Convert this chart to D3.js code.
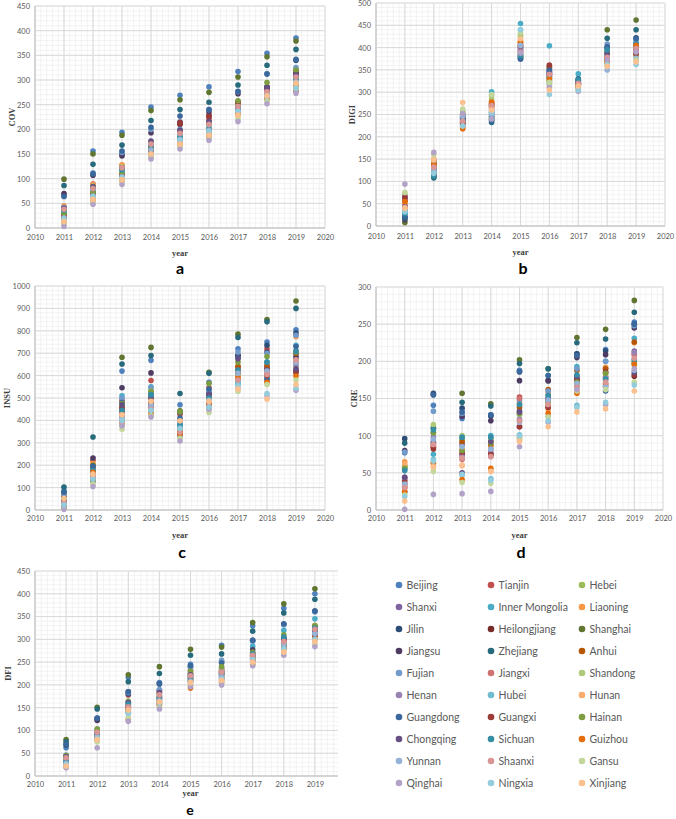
<!DOCTYPE html>
<html>
<head>
<meta charset="utf-8">
<script src="https://d3js.org/d3.v7.min.js"></script>
<style>
body{margin:0;background:#fff;}
svg{display:block;}
.tick text{font-family:Lato, "Open Sans", sans-serif;font-size:7.5px;fill:#595959;}
.ytitle, .xtitle{font-family:"Liberation Serif", "DejaVu Serif", serif;font-weight:bold;fill:#404040;}
.letter{font-family:Lato, "Open Sans", sans-serif;font-weight:bold;font-size:16px;fill:#000;}
.legend text{font-family:Lato, "Open Sans", sans-serif;font-size:10.5px;fill:#595959;}
</style>
</head>
<body>
<script>
//wrap everything in a self-executing anonymous function to move to local scope
(function(){

//provinces, in the order of the legend
var provinces = ["Beijing","Tianjin","Hebei","Shanxi","Inner Mongolia","Liaoning",
    "Jilin","Heilongjiang","Shanghai","Jiangsu","Zhejiang","Anhui",
    "Fujian","Jiangxi","Shandong","Henan","Hubei","Hunan",
    "Guangdong","Guangxi","Hainan","Chongqing","Sichuan","Guizhou",
    "Yunnan","Shaanxi","Gansu","Qinghai","Ningxia","Xinjiang"];

var colors = ["#4F81BD","#C0504D","#9BBB59","#8064A2","#4BACC6","#F79646",
    "#2C4D75","#772C2A","#5F7530","#4D3B62","#276A7C","#B65708",
    "#729ACA","#CD7371","#AFC97A","#9983B5","#6FBDD1","#F9AB6B",
    "#3A679C","#9B3B38","#7E9C40","#664F82","#358EA6","#E46C0A",
    "#95B3D7","#D99694","#C3D69B","#B3A2C7","#93CDDD","#FAC090"];

var years = [2011,2012,2013,2014,2015,2016,2017,2018,2019];
var xTicks = [2010,2011,2012,2013,2014,2015,2016,2017,2018,2019,2020];

//one row per year, provinces in the order above
var covData = [
    [66,40,18,25,30,45,28,22,99,70,86,35,42,26,38,20,33,14,64,23,30,40,36,10,15,38,8,3,20,13],
    [156,89,62,70,77,88,72,70,150,107,129,82,112,75,85,68,78,60,110,66,72,84,80,56,65,80,52,48,63,58],
    [194,126,102,110,118,128,150,108,188,146,168,120,153,112,124,106,115,100,156,105,112,122,118,96,104,122,94,88,102,98],
    [245,170,150,160,165,168,155,158,238,193,218,162,200,172,174,148,168,152,204,156,160,176,166,146,158,170,145,140,150,150],
    [269,212,172,185,190,180,196,210,260,215,240,188,200,195,190,176,188,172,227,213,182,198,184,168,180,192,165,160,178,170],
    [286,222,192,205,210,200,215,228,275,235,255,205,240,212,208,195,204,190,240,226,200,216,200,185,198,210,182,178,196,188],
    [317,255,235,240,245,250,238,256,306,272,290,252,276,248,250,232,244,228,277,254,258,246,240,232,238,246,222,216,236,229],
    [354,282,260,272,276,270,285,280,347,286,330,275,313,278,265,262,274,266,312,268,295,284,270,262,272,276,258,252,266,268],
    [385,320,290,300,305,298,340,315,379,312,362,302,325,308,288,296,300,292,342,278,320,310,304,285,296,306,282,273,284,294]
];

var digiData = [
    [30,62,70,66,45,55,20,58,8,14,18,52,35,48,50,60,36,50,22,64,40,44,28,55,38,42,75,94,32,40],
    [118,140,145,148,128,140,112,145,110,115,108,138,125,135,142,128,120,150,114,138,122,130,112,136,125,132,160,165,118,148],
    [240,235,258,250,228,220,238,232,246,236,244,225,242,232,255,248,226,222,240,230,250,242,236,218,246,235,262,252,224,277],
    [250,276,294,265,301,280,240,272,238,245,232,270,258,268,285,262,252,266,236,274,246,255,242,278,250,270,295,240,255,260],
    [395,405,425,398,454,412,378,402,380,385,376,410,400,392,430,395,440,418,374,404,385,390,382,414,405,390,435,388,440,420],
    [340,345,330,352,404,336,348,358,325,342,334,355,346,338,320,344,328,312,350,361,324,340,332,330,318,340,322,310,295,305],
    [320,318,312,322,341,316,325,320,318,326,330,314,322,316,310,318,326,312,328,320,315,324,328,310,308,320,306,302,305,314],
    [398,385,372,380,392,368,400,376,440,388,421,370,408,378,366,382,384,374,402,375,390,386,395,368,350,378,360,372,362,358],
    [410,398,385,392,412,395,422,388,462,402,440,384,418,396,380,394,400,390,420,386,404,398,408,405,376,398,372,390,362,368]
];

var insuData = [
    [85,50,12,30,45,55,40,25,78,60,102,22,72,28,35,15,42,18,80,20,48,38,32,8,26,34,6,3,22,52],
    [185,222,125,160,178,210,175,165,200,232,326,190,180,150,140,130,170,155,195,145,135,160,175,168,150,145,115,105,138,160],
    [620,490,380,430,510,450,440,420,682,546,652,460,500,435,470,410,400,425,480,455,475,470,445,395,412,388,360,375,400,425],
    [668,578,440,480,550,500,520,470,726,612,690,485,545,460,530,455,445,490,510,475,530,500,515,430,470,450,420,415,445,485],
    [470,428,330,350,385,345,360,355,443,435,520,350,390,370,340,330,375,400,410,340,438,365,380,342,360,348,320,308,365,398],
    [570,545,455,480,505,490,520,510,615,525,610,495,530,470,500,460,465,485,540,475,565,515,500,470,490,480,435,450,460,485],
    [720,640,560,610,565,600,690,625,785,690,770,640,705,590,600,580,570,620,680,610,660,675,625,590,610,580,530,545,555,540],
    [750,720,620,640,660,575,735,630,850,705,840,645,700,610,600,580,590,620,585,600,685,625,660,570,620,605,560,510,520,495],
    [805,710,620,690,735,775,790,620,933,680,900,700,780,660,640,650,610,665,730,615,705,630,708,598,660,670,580,535,545,560]
];

var creData = [
    [77,42,60,44,55,65,96,35,58,80,90,30,78,32,57,40,54,62,24,38,56,44,53,25,35,30,20,1,18,12],
    [141,85,112,92,75,63,157,84,104,155,110,88,133,86,115,98,68,58,155,82,104,90,108,64,95,88,52,21,66,58],
    [123,90,95,87,97,82,137,75,157,126,145,92,130,68,100,72,47,60,132,78,80,50,98,41,85,70,37,22,48,60],
    [128,76,92,82,100,86,126,74,143,120,140,88,96,72,95,78,42,52,128,75,90,92,98,56,82,72,36,25,40,52],
    [188,152,128,133,142,145,186,112,202,174,197,138,148,150,128,122,101,93,186,112,130,132,142,97,118,120,95,85,100,92],
    [181,150,145,148,155,158,174,138,190,174,190,162,160,141,140,146,126,135,181,138,145,150,154,130,148,142,125,118,120,112],
    [210,175,168,172,193,188,210,175,232,205,225,188,190,166,172,178,141,160,208,176,172,180,182,157,170,165,160,162,138,132],
    [216,190,180,178,200,192,214,185,243,209,230,190,200,175,182,178,166,165,160,186,184,168,176,170,166,172,162,142,145,136],
    [253,210,200,214,231,225,250,180,282,245,266,226,248,208,195,212,202,198,250,182,198,185,202,196,188,204,172,190,168,160]
];

var dfiData = [
    [62,40,30,35,32,38,68,36,80,44,75,30,46,34,38,28,30,25,70,26,45,42,33,22,28,40,20,18,25,22],
    [127,98,80,90,88,92,125,88,151,122,147,88,103,95,100,85,90,82,127,84,103,95,92,78,86,96,75,62,82,80],
    [216,178,140,155,160,150,180,152,222,185,207,150,183,155,165,148,140,145,185,145,162,162,158,124,137,152,128,120,138,145],
    [205,185,160,172,175,170,202,168,240,188,225,165,190,175,178,160,170,162,203,158,180,183,172,155,165,178,150,147,160,163],
    [245,232,210,222,215,218,240,212,278,225,265,215,238,220,225,205,215,200,242,208,230,222,218,193,208,220,198,196,205,205],
    [287,232,215,225,222,230,250,225,283,236,268,220,254,230,232,212,220,208,248,215,240,228,226,205,218,228,205,200,212,210],
    [330,268,255,262,285,265,298,262,337,277,318,258,296,270,262,252,255,248,298,255,272,265,268,245,258,265,245,242,255,250],
    [368,298,285,300,320,296,333,290,378,303,358,280,332,296,290,285,288,278,334,286,310,300,305,280,288,295,272,265,280,272],
    [400,325,310,322,345,330,362,310,411,328,388,318,360,322,312,315,318,305,362,308,330,320,325,300,312,322,290,284,300,295]
];

//draw the whole figure
drawFigure();

function drawFigure(){
    var width = 676,
        height = 819;

    var svg = d3.select("body")
        .append("svg")
        .attr("width", width)
        .attr("height", height);

    //panel e runs past the legend column, so clip it
    svg.append("defs")
        .append("clipPath")
        .attr("id", "clipE")
        .append("rect")
        .attr("x", 0)
        .attr("y", 555)
        .attr("width", 338)
        .attr("height", 264);

    //panel frames
    var panels = [
        {data: covData, name: "COV", letter: "a", left: 35, right: 325, top: 6, bottom: 228, max: 450, major: 50, minor: 10,
            titleX: 12, padX: 7, yearY: 253, letterY: 268, letterX: 180, letterSize: 16},
        {data: digiData, name: "DIGI", letter: "b", left: 376, right: 665, top: 3, bottom: 226, max: 500, major: 50, minor: 10,
            titleX: 352, padX: 8, yearY: 252, letterY: 268, letterX: 523, letterSize: 16},
        {data: insuData, name: "INSU", letter: "c", left: 35, right: 325, top: 286, bottom: 510, max: 1000, major: 100, minor: 20,
            titleX: 7, padX: 6, yearY: 535, letterY: 552, letterX: 182, letterSize: 16},
        {data: creData, name: "CRE", letter: "d", left: 376, right: 663, top: 287, bottom: 510, max: 300, major: 50, minor: 10,
            titleX: 354, padX: 6, yearY: 535, letterY: 552, letterX: 521, letterSize: 16},
        {data: dfiData, name: "DFI", letter: "e", left: 35, right: 346, top: 571, bottom: 776, max: 450, major: 50, minor: 10,
            titleX: 8, padX: 6, yearY: 793, letterY: 810, letterX: 190, letterSize: 14, clip: "clipE"}
    ];

    panels.forEach(function(p){
        setPanel(svg, p);
    });

    setLegend(svg);
};

//draw one scatter panel
function setPanel(svg, p){
    var x = d3.scaleLinear().domain([2010, 2020]).range([p.left, p.right]);
    var y = d3.scaleLinear().domain([0, p.max]).range([p.bottom, p.top]);

    var g = svg.append("g");
    if (p.clip){
        g.attr("clip-path", "url(#" + p.clip + ")");
    };

    //minor gridlines
    var minor = g.append("g")
        .attr("stroke", "#eeeeee")
        .attr("stroke-width", 0.7);
    minor.selectAll(".vminor")
        .data(d3.range(2010, 2020.001, 0.2))
        .enter()
        .append("line")
        .attr("x1", function(d){ return x(d); })
        .attr("x2", function(d){ return x(d); })
        .attr("y1", p.top)
        .attr("y2", p.bottom);
    minor.selectAll(".hminor")
        .data(d3.range(0, p.max + 0.001, p.minor))
        .enter()
        .append("line")
        .attr("x1", p.left)
        .attr("x2", p.right)
        .attr("y1", function(d){ return y(d); })
        .attr("y2", function(d){ return y(d); });

    //major gridlines
    var major = g.append("g")
        .attr("stroke", "#d9d9d9")
        .attr("stroke-width", 1);
    major.selectAll(".vmajor")
        .data(xTicks)
        .enter()
        .append("line")
        .attr("x1", function(d){ return x(d); })
        .attr("x2", function(d){ return x(d); })
        .attr("y1", p.top)
        .attr("y2", p.bottom);
    major.selectAll(".hmajor")
        .data(d3.range(0, p.max + 0.001, p.major))
        .enter()
        .append("line")
        .attr("x1", p.left)
        .attr("x2", p.right)
        .attr("y1", function(d){ return y(d); })
        .attr("y2", function(d){ return y(d); });

    //axis lines
    g.append("line")
        .attr("x1", p.left).attr("x2", p.left)
        .attr("y1", p.top).attr("y2", p.bottom)
        .attr("stroke", "#bfbfbf");
    g.append("line")
        .attr("x1", p.left).attr("x2", p.right)
        .attr("y1", p.bottom).attr("y2", p.bottom)
        .attr("stroke", "#bfbfbf");

    //tick labels
    g.append("g")
        .attr("transform", "translate(0," + p.bottom + ")")
        .call(d3.axisBottom(x).tickValues(xTicks).tickSize(0).tickPadding(p.padX).tickFormat(d3.format("d")))
        .select(".domain").remove();
    g.append("g")
        .attr("transform", "translate(" + p.left + ",0)")
        .call(d3.axisLeft(y).tickValues(d3.range(0, p.max + 0.001, p.major)).tickSize(0).tickPadding(5).tickFormat(d3.format("d")))
        .select(".domain").remove();

    //points, series by series like the spreadsheet draws them
    var points = [];
    provinces.forEach(function(name, j){
        years.forEach(function(yr, i){
            points.push({year: yr, value: p.data[i][j], color: colors[j]});
        });
    });

    g.append("g")
        .selectAll("circle")
        .data(points)
        .enter()
        .append("circle")
        .attr("cx", function(d){ return x(d.year); })
        .attr("cy", function(d){ return y(d.value); })
        .attr("r", 2.8)
        .attr("fill", function(d){ return d.color; });

    //titles
    var midY = (p.top + p.bottom) / 2;
    svg.append("text")
        .attr("class", "ytitle")
        .attr("transform", "translate(" + p.titleX + "," + midY + ") rotate(-90)")
        .attr("text-anchor", "middle")
        .attr("dy", "0.35em")
        .style("font-size", "8.5px")
        .text(p.name);

    svg.append("text")
        .attr("class", "xtitle")
        .attr("x", (p.left + p.right) / 2)
        .attr("y", p.yearY)
        .attr("text-anchor", "middle")
        .attr("dy", "0.35em")
        .style("font-size", "8.5px")
        .text("year");

    svg.append("text")
        .attr("class", "letter")
        .attr("x", p.letterX)
        .attr("y", p.letterY)
        .attr("text-anchor", "middle")
        .attr("dy", "0.35em")
        .style("font-size", p.letterSize + "px")
        .text(p.letter);
};

//legend, three columns
function setLegend(svg){
    var colX = [399, 491, 582];

    var items = svg.append("g")
        .attr("class", "legend")
        .selectAll("g")
        .data(provinces)
        .enter()
        .append("g")
        .attr("transform", function(d, i){
            return "translate(" + colX[i % 3] + "," + (585 + Math.floor(i / 3) * 22) + ")";
        });

    items.append("circle")
        .attr("r", 3.3)
        .attr("fill", function(d, i){ return colors[i]; });

    items.append("text")
        .attr("x", 7.5)
        .attr("dy", "0.35em")
        .text(function(d){ return d; });
};

})();
</script>
</body>
</html>
